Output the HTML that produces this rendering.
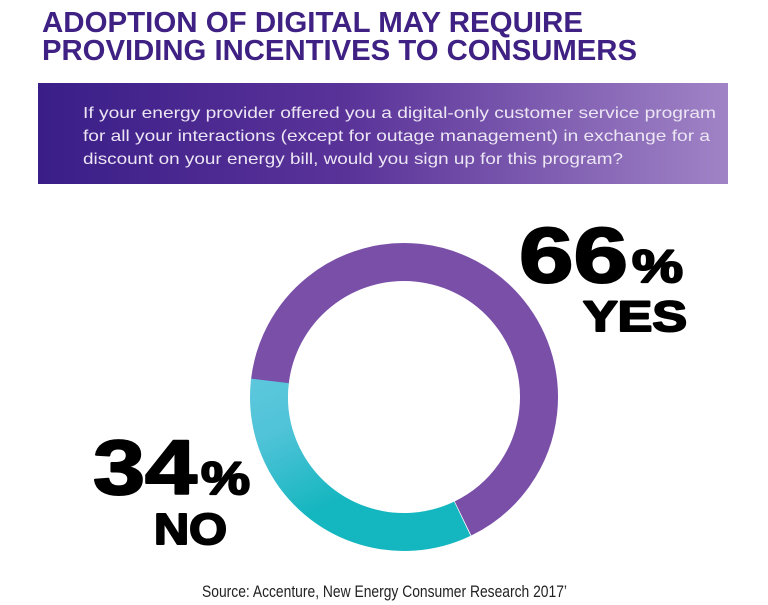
<!DOCTYPE html>
<html><head><meta charset="utf-8"><style>
html,body{margin:0;padding:0;background:#fff;}
svg{display:block;}
</style></head><body>
<svg width="768" height="605" viewBox="0 0 768 605" xmlns="http://www.w3.org/2000/svg">
<defs>
<linearGradient id="bn" x1="0" x2="1" y1="0" y2="0">
<stop offset="0" stop-color="#3a1e88"/>
<stop offset="0.45" stop-color="#5a3399"/>
<stop offset="1" stop-color="#a083c6"/>
</linearGradient>
<linearGradient id="cy" x1="250" x2="470" y1="0" y2="0" gradientUnits="userSpaceOnUse">
<stop offset="0" stop-color="#6dcde3"/>
<stop offset="0.6" stop-color="#4fc3d8"/>
<stop offset="1" stop-color="#14b6bf"/>
</linearGradient>
</defs>
<g font-family="Liberation Sans, sans-serif" font-weight="bold" fill="#3f2184">
<text x="42" y="32" font-size="29" textLength="541" lengthAdjust="spacingAndGlyphs">ADOPTION OF DIGITAL MAY REQUIRE</text>
<text x="42" y="60" font-size="29" textLength="595" lengthAdjust="spacingAndGlyphs">PROVIDING INCENTIVES TO CONSUMERS</text>
</g>
<rect x="38" y="83" width="690" height="101" fill="url(#bn)"/>
<g font-family="Liberation Sans, sans-serif" font-size="16" fill="#ece6f4" font-weight="500">
<text x="83" y="118" textLength="633" lengthAdjust="spacingAndGlyphs">If your energy provider offered you a digital-only customer service program</text>
<text x="83" y="141" textLength="627" lengthAdjust="spacingAndGlyphs">for all your interactions (except for outage management) in exchange for a</text>
<text x="83" y="164" textLength="540" lengthAdjust="spacingAndGlyphs">discount on your energy bill, would you sign up for this program?</text>
</g>
<circle cx="404" cy="397" r="135" fill="none" stroke="#7a4fa8" stroke-width="38" stroke-dasharray="560 900" transform="rotate(186.3 404 397)"/>
<circle cx="404" cy="397" r="135" fill="none" stroke="url(#cy)" stroke-width="38" stroke-dasharray="288.4 900" transform="rotate(64.4 404 397)"/>
<g font-family="Liberation Sans, sans-serif" font-weight="bold" fill="#000" stroke="#000" stroke-width="2" stroke-linejoin="round">
<text x="519" y="282" font-size="78" textLength="109" lengthAdjust="spacingAndGlyphs">66</text>
<text x="632" y="282" font-size="46" textLength="51" lengthAdjust="spacingAndGlyphs">%</text>
<text x="583" y="331" font-size="43" textLength="104" lengthAdjust="spacingAndGlyphs">YES</text>
<text x="93" y="494" font-size="77" textLength="104" lengthAdjust="spacingAndGlyphs">34</text>
<text x="201" y="494" font-size="46" textLength="49" lengthAdjust="spacingAndGlyphs">%</text>
<text x="154" y="544" font-size="44" textLength="73" lengthAdjust="spacingAndGlyphs">NO</text>
</g>
<text x="202" y="597" font-family="Liberation Sans, sans-serif" font-size="17" fill="#222" textLength="365" lengthAdjust="spacingAndGlyphs">Source: Accenture, New Energy Consumer Research 2017’</text>
</svg>
</body></html>
